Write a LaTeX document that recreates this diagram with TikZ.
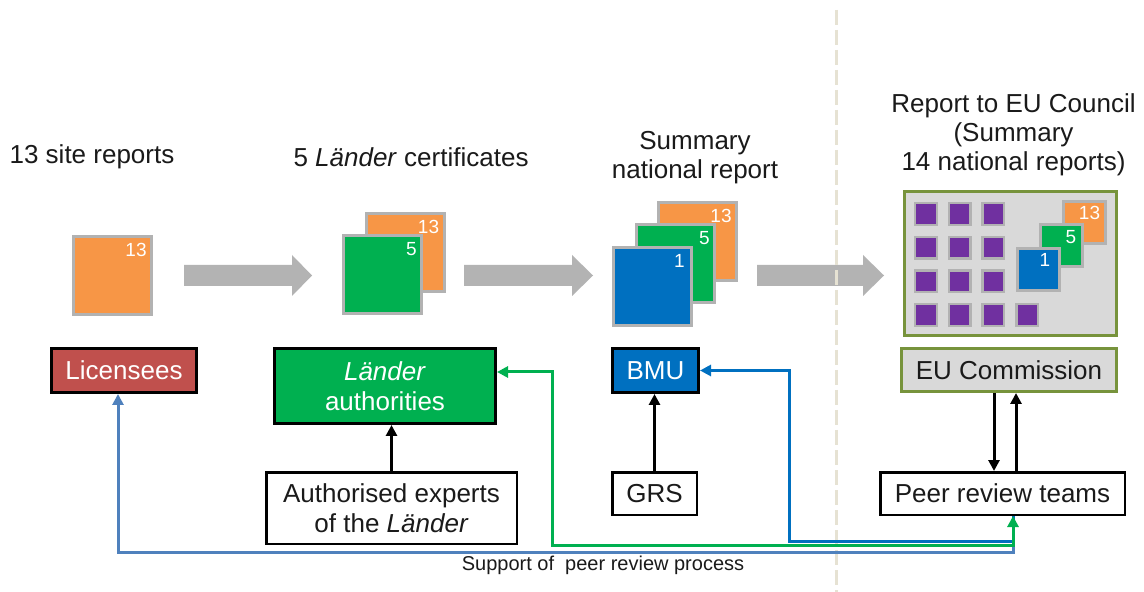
\documentclass[tikz,border=0pt]{standalone}
\usepackage{fontspec}
\setmainfont{Liberation Sans}
\usetikzlibrary{arrows.meta,calc}
\definecolor{cOrange}{HTML}{F79646}
\definecolor{cGreen}{HTML}{00B050}
\definecolor{cBlue}{HTML}{0070C0}
\definecolor{cPurple}{HTML}{7030A0}
\definecolor{cRed}{HTML}{C0504D}
\definecolor{cSqBorder}{HTML}{B2B2B2}
\definecolor{cArrow}{HTML}{B3B3B3}
\definecolor{cPanel}{HTML}{D9D9D9}
\definecolor{cOlive}{HTML}{77933C}
\definecolor{cSteel}{HTML}{4F81BD}
\definecolor{cDivider}{HTML}{E6E2D3}
\definecolor{cText}{HTML}{1A1A1A}
\begin{document}
\begin{tikzpicture}[x=0.5pt,y=-0.5pt,
  >={Triangle[length=5.5pt,width=5.5pt]},
  title/.style={font=\fontsize{13pt}{14.5pt}\selectfont, text=cText, align=center, inner sep=0},
  doc/.style={draw=cSqBorder, line width=1.5pt, minimum size=39pt, inner sep=0, outer sep=0},
  smalldoc/.style={draw=cSqBorder, line width=1.5pt, minimum size=21pt, inner sep=0, outer sep=0},
  purpledoc/.style={draw=cSqBorder, fill=cPurple, line width=1.2pt, minimum size=10.8pt, inner sep=0, outer sep=0},
  numlbl/.style={font=\fontsize{9.5pt}{10pt}\selectfont, text=white, inner sep=0, anchor=north east},
  boxtext/.style={font=\fontsize{13pt}{15pt}\selectfont, align=center, inner sep=0},
  thickbox/.style={boxtext, draw=black, line width=1.5pt},
  thinbox/.style={boxtext, draw=black, line width=1.25pt, fill=white, text=cText},
  blk/.style={draw=black, line width=1.5pt},
  sline/.style={draw=cSteel, line width=1.5pt},
  bline/.style={draw=cBlue, line width=1.5pt},
  gline/.style={draw=cGreen, line width=1.5pt},
  grayarrow/.style={fill=cArrow},
  divider/.style={draw=cDivider, line width=1.5pt, dash pattern=on 7.5pt off 2.5pt}
]
\useasboundingbox (0,0) rectangle (1144,592);
\fill[white] (0,0) rectangle (1144,592);

% titles
\node[title] (t1) at (92,157) {13 site reports};
\node[title] (t2) at (411,157) {5 \textit{Länder} certificates};
\node[title] (t3) at (695,158) {Summary\\national report};
\node[title] (t4) at (1013.5,135) {Report to EU Council\\(Summary\\14 national reports)};

% gray process arrows
\foreach \xa/\xb/\xc in {184/292/312, 464/572/593, 757/863/884}{
  \fill[grayarrow] (\xa,265) -- (\xb,265) -- (\xb,255) -- (\xc,275.5) -- (\xb,296) -- (\xb,286) -- (\xa,286) -- cycle;
}

% divider
\coordinate (dtop) at (836.7,10);
\coordinate (dbot) at (836.7,592);
\draw[divider] (dtop) -- (dbot);

% column 1 documents
\node[doc, fill=cOrange] (s1) at (112.5,275.5) {};
\node[numlbl] (s1n) at ($(s1.north east)+(-4.5,6.5)$) {13};

% column 2 documents
\node[doc, fill=cOrange] (s2o) at (405,252.5) {};
\node[numlbl] (s2on) at ($(s2o.north east)+(-4.5,6.5)$) {13};
\node[doc, fill=cGreen] (s2g) at (382.5,275) {};
\node[numlbl] (s2gn) at ($(s2g.north east)+(-4.5,6.5)$) {5};

% column 3 documents
\node[doc, fill=cOrange] (s3o) at (697.5,241.5) {};
\node[numlbl] (s3on) at ($(s3o.north east)+(-4.5,6.5)$) {13};
\node[doc, fill=cGreen] (s3g) at (675.5,263.5) {};
\node[numlbl] (s3gn) at ($(s3g.north east)+(-4.5,6.5)$) {5};
\node[doc, fill=cBlue] (s3b) at (652.5,286.5) {};
\node[numlbl] (s3bn) at ($(s3b.north east)+(-6.5,6.5)$) {1};

% EU panel
\node[draw=cOlive, fill=cPanel, line width=1.5pt, minimum width=106pt, minimum height=72pt, inner sep=0] (panel) at (1010.5,263.5) {};
\foreach \r/\yy in {0/214,1/247.7,2/281.4}{
  \foreach \c/\xx in {0/926,1/959.7,2/993.4}{
    \node[purpledoc] (p-\r-\c) at (\xx,\yy) {};
  }
}
\foreach \c/\xx in {0/926,1/959.7,2/993.4,3/1027.1}{
  \node[purpledoc] (p-3-\c) at (\xx,315.1) {};
}
\node[smalldoc, fill=cOrange] (s4o) at (1084.5,223) {};
\node[numlbl] (s4on) at ($(s4o.north east)+(-5,4)$) {13};
\node[smalldoc, fill=cGreen] (s4g) at (1061.5,246) {};
\node[numlbl] (s4gn) at ($(s4g.north east)+(-6,5)$) {5};
\node[smalldoc, fill=cBlue] (s4b) at (1038.5,269.5) {};
\node[numlbl] (s4bn) at ($(s4b.north east)+(-9,5)$) {1};

% actor boxes
\node[thickbox, fill=cRed, text=white, minimum width=72.5pt, minimum height=22pt] (lic) at (124,370.5) {Licensees};
\node[thickbox, fill=cGreen, text=white, minimum width=110.5pt, minimum height=37.5pt] (lander) at (385,386) {\textit{Länder}\\authorities};
\node[thickbox, fill=cBlue, text=white, minimum width=43pt, minimum height=22pt] (bmu) at (655.5,370.5) {BMU};
\node[boxtext, draw=cOlive, line width=1.5pt, fill=cPanel, text=cText, minimum width=107.5pt, minimum height=21.5pt] (eu) at (1009,370) {EU Commission};

\node[thinbox, minimum width=125.25pt, minimum height=35.75pt] (exp) at (391.5,508) {Authorised experts\\of the \textit{Länder}};
\node[thinbox, minimum width=42.25pt, minimum height=21.25pt] (grs) at (654.5,493.5) {GRS};
\node[thinbox, minimum width=122.25pt, minimum height=21.25pt] (peer) at (1002.5,493.5) {Peer review teams};

% black connectors
\draw[blk, ->] (exp.north) -- (exp.north |- lander.south);
\draw[blk, ->] (grs.north) -- (grs.north |- bmu.south);
\coordinate (pdn) at ($(peer.north)+(-8.5,0)$);
\coordinate (pup) at ($(peer.north)+(13.5,0)$);
\draw[blk, ->] (pdn |- eu.south) -- (pdn);
\draw[blk, ->] (pup) -- (pup |- eu.south);

% support lines
\coordinate (pin) at ($(peer.south)+(10.5,0)$);
\coordinate (yS) at (0,552);
\coordinate (yG) at (0,545);
\coordinate (yB) at (0,541);
\coordinate (xG) at (552.5,0);
\coordinate (xB) at (789,0);
\coordinate (lin) at ($(lander.east)+(0,-14)$);
\coordinate (licin) at ($(lic.south)+(-6,0)$);
\draw[sline, <-] (licin) |- (pin |- yS) -- (pin);
\draw[bline, <-] (bmu.east) -| (xB |- yB) -| (pin);
\draw[gline, <->] (lin) -| (xG |- yG) -| (pin);

\node[font=\fontsize{10pt}{12pt}\selectfont, text=cText, inner sep=0] (sup) at (603,565) {Support of\ \ peer review process};
\end{tikzpicture}
\end{document}
